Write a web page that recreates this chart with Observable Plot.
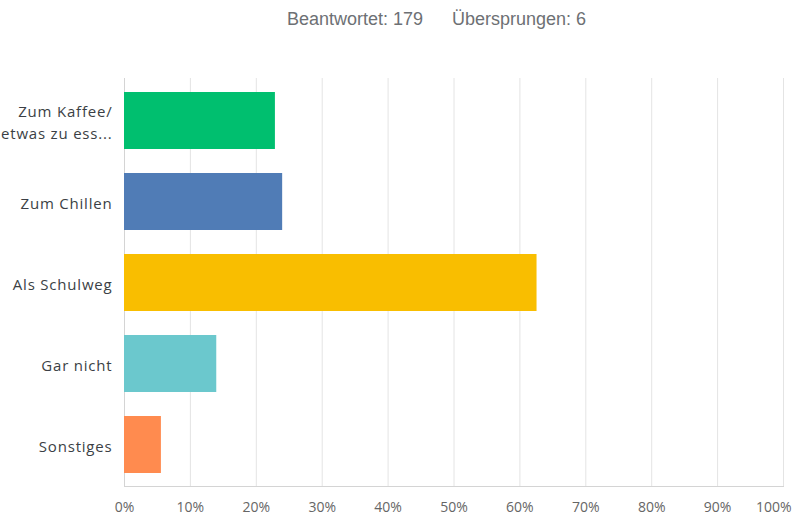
<!DOCTYPE html>
<html>
<head>
<meta charset="utf-8">
<script src="https://cdn.jsdelivr.net/npm/d3@7"></script>
<script src="https://cdn.jsdelivr.net/npm/@observablehq/plot@0.6"></script>
<style>
  body { margin: 0; background: #fff; width: 796px; height: 519px; overflow: hidden; font-family: "Liberation Sans", Arial, sans-serif; }
  #head { position: relative; height: 40px; color: #6d7074; font-size: 18px; }
  #head span { position: absolute; top: 9px; white-space: nowrap; }
  #chart svg { display: block; }
  #chart g[aria-label="y-axis tick label"] { letter-spacing: 0.8px; }
</style>
</head>
<body>
<div id="head"><span id="answered"></span><span id="skipped"></span></div>
<div id="chart"></div>
<script>
const answeredText = "Beantwortet: 179";
const skippedText = "Übersprungen: 6";
const categories = ["Zum Kaffee/\netwas zu ess...", "Zum Chillen", "Als Schulweg", "Gar nicht", "Sonstiges"];
const values = [0.229, 0.240, 0.626, 0.140, 0.056];
const barColors = ["#00bf6f", "#507cb6", "#f9be00", "#6bc8cd", "#ff8b4f"];
const xTicks = [0, 0.1, 0.2, 0.3, 0.4, 0.5, 0.6, 0.7, 0.8, 0.9, 1];

document.getElementById("answered").textContent = answeredText;
document.getElementById("answered").style.left = "287px";
document.getElementById("skipped").textContent = skippedText;
document.getElementById("skipped").style.left = "452px";

const data = categories.map((c, i) => ({category: c, value: values[i], color: barColors[i]}));
const fmt = d => Math.round(d * 100) + "%";

const chart = Plot.plot({
  width: 796,
  height: 479,
  marginLeft: 124,
  marginRight: 13,
  marginTop: 38,
  marginBottom: 33,
  style: {fontFamily: "'Open Sans', sans-serif", fontSize: "14px", background: "#fff"},
  x: {domain: [0, 1], label: null},
  y: {domain: categories, paddingInner: 0.3, paddingOuter: 0.15, label: null},
  marks: [
    Plot.gridX(xTicks, {stroke: "#e4e4e4", strokeOpacity: 1}),
    Plot.ruleX([0], {stroke: "#d4d4d4"}),
    Plot.barX(data, {x: "value", y: "category", fill: "color"}),
    Plot.frame({anchor: "bottom", stroke: "#d4d4d4"}),
    Plot.axisX(xTicks.slice(0, -1), {tickSize: 0, tickPadding: 16, tickFormat: fmt, fill: "#666", fontSize: 14, label: null}),
    Plot.axisX(xTicks.slice(-1), {tickSize: 0, tickPadding: 16, tickFormat: fmt, fill: "#666", fontSize: 14, textAnchor: "end", dx: 8, label: null}),
    Plot.axisY({tickSize: 0, tickPadding: 12, fill: "#3b3f45", fontSize: 15, lineHeight: 1.5, label: null})
  ]
});
document.getElementById("chart").appendChild(chart);
</script>
</body>
</html>
